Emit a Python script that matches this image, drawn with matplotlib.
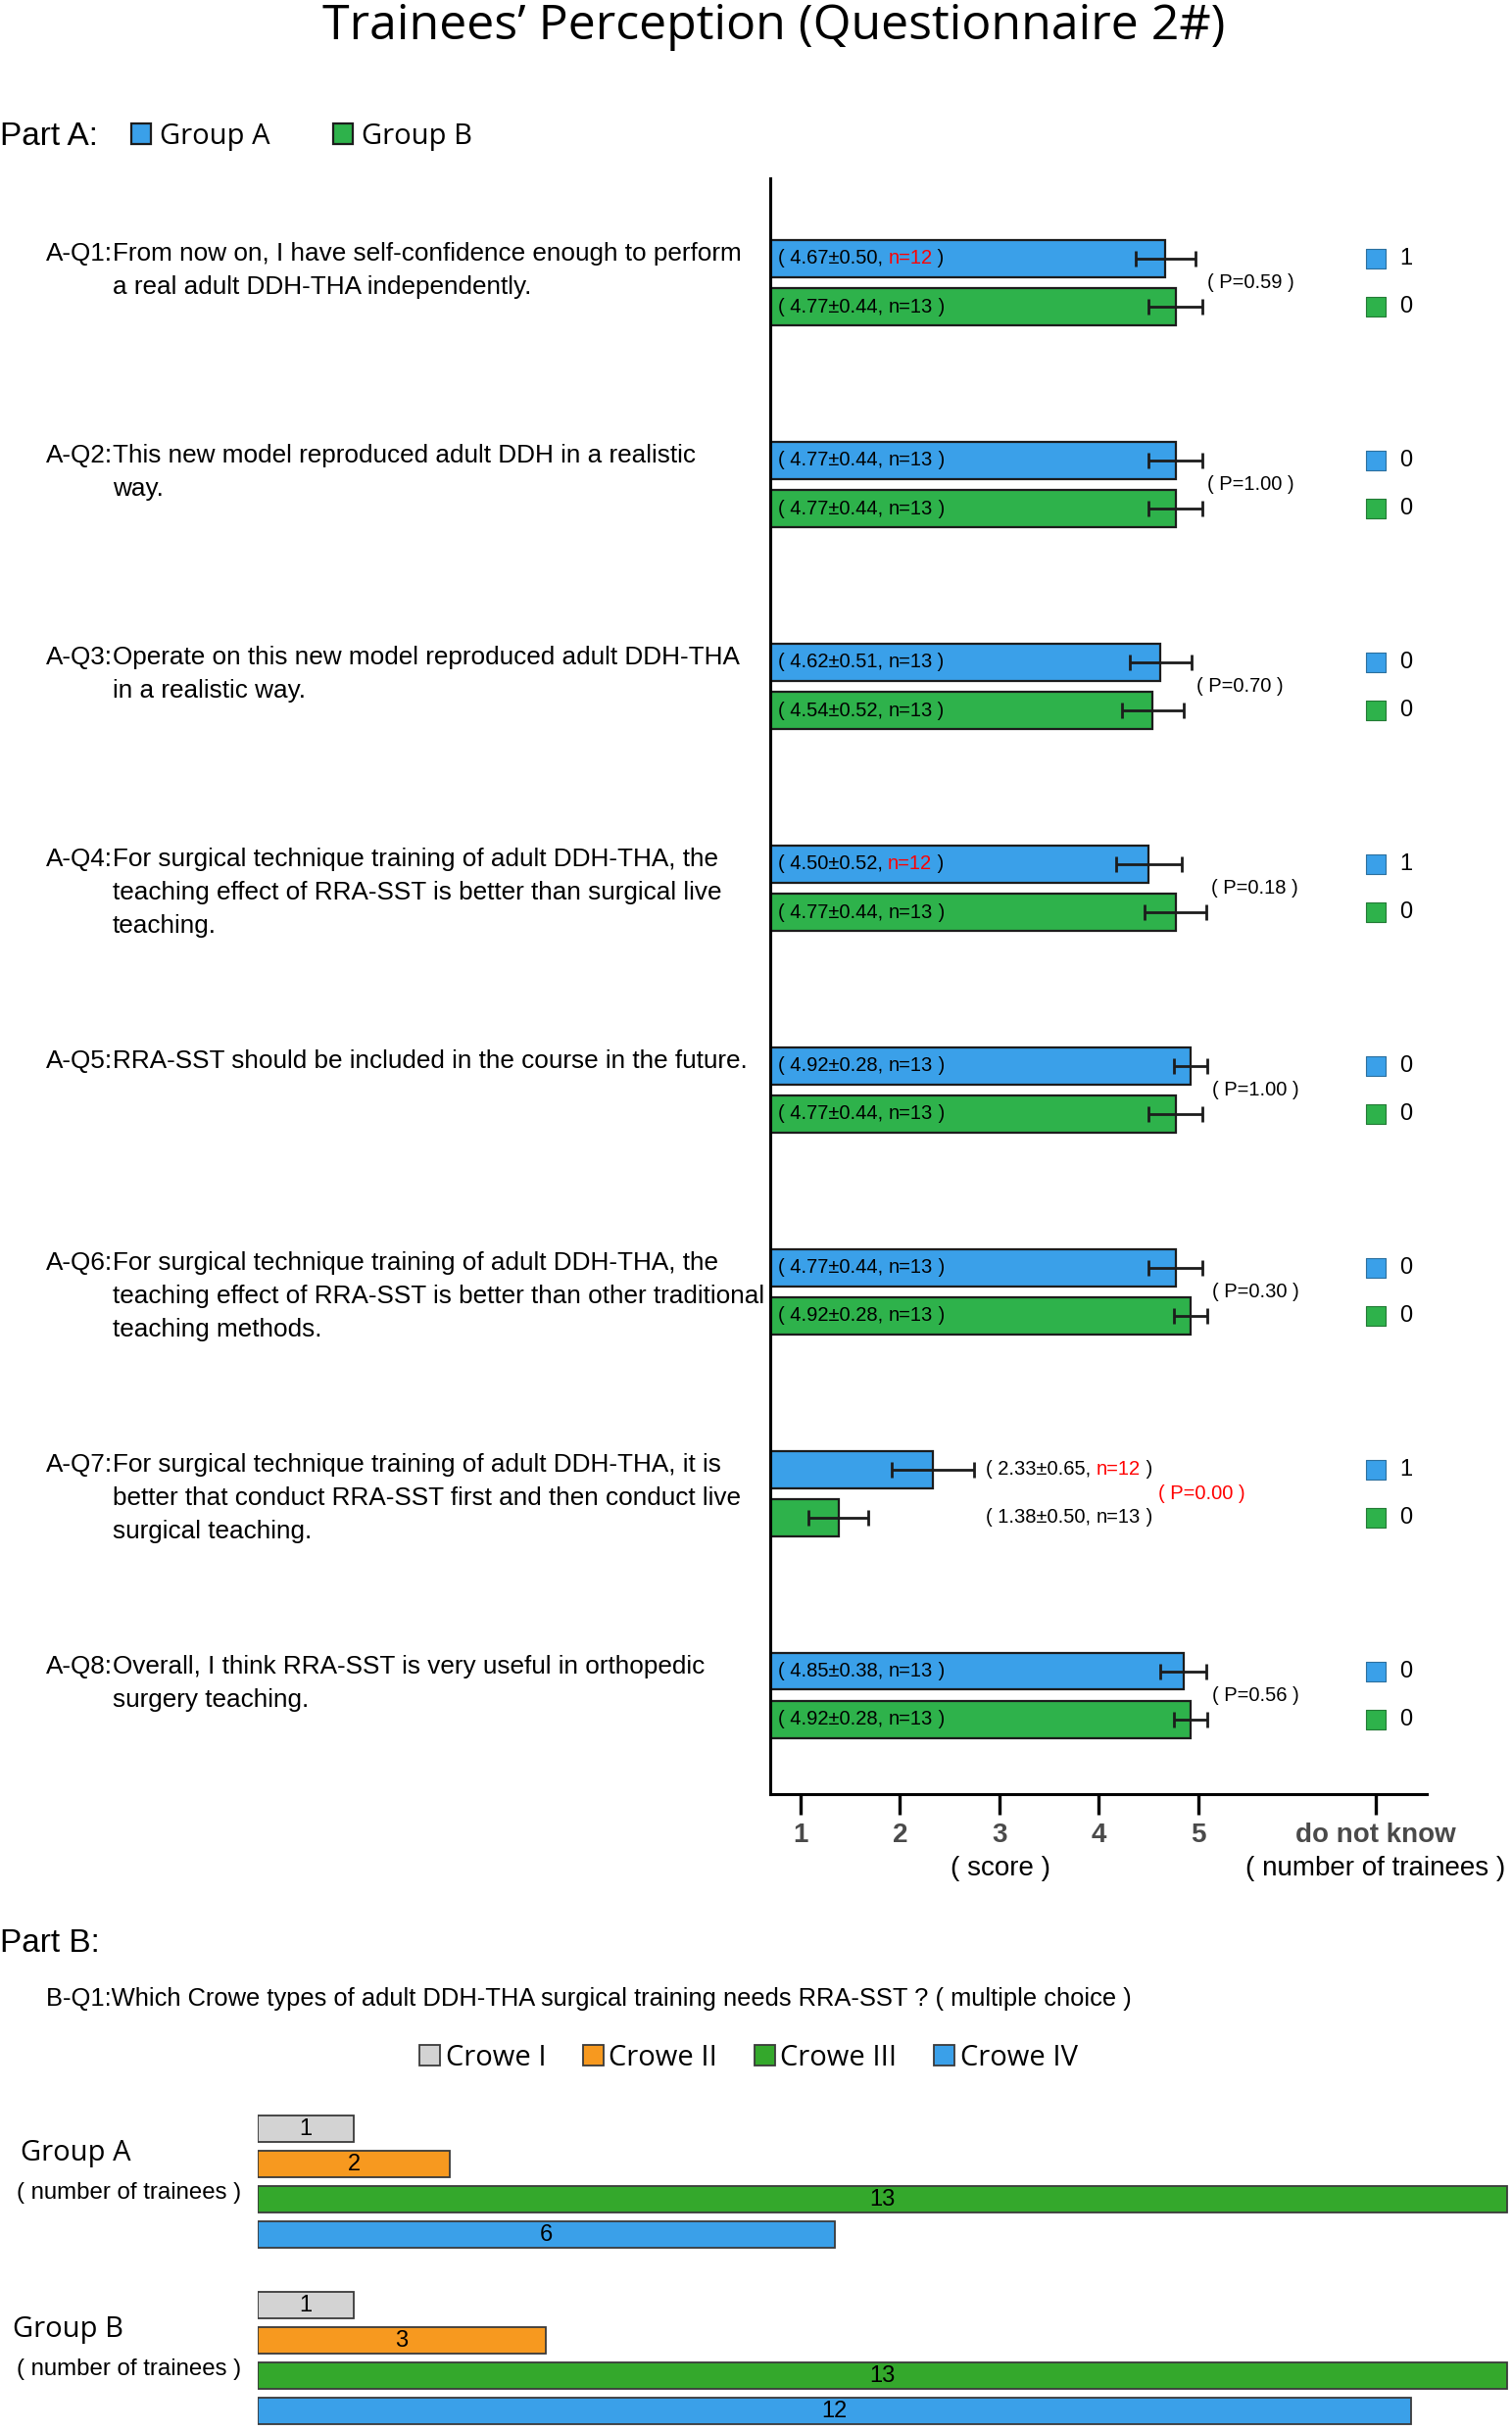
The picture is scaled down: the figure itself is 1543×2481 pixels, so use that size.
import matplotlib
matplotlib.use("Agg")
import matplotlib.pyplot as plt
from matplotlib import font_manager, transforms

# ---------------- data ----------------
questions = [
    ["A-Q1:", "From now on, I have self-confidence enough to perform", "a real adult DDH-THA independently."],
    ["A-Q2:", "This new model reproduced adult DDH in a realistic", "way."],
    ["A-Q3:", "Operate on this new model reproduced adult DDH-THA", "in a realistic way."],
    ["A-Q4:", "For surgical technique training of adult DDH-THA, the",
     "teaching effect of RRA-SST is better than surgical live", "teaching."],
    ["A-Q5:", "RRA-SST should be included in the course in the future."],
    ["A-Q6:", "For surgical technique training of adult DDH-THA, the",
     "teaching effect of RRA-SST is better than other traditional", "teaching methods."],
    ["A-Q7:", "For surgical technique training of adult DDH-THA, it is",
     "better that conduct RRA-SST first and then conduct live", "surgical teaching."],
    ["A-Q8:", "Overall, I think RRA-SST is very useful in orthopedic", "surgery teaching."],
]
mean_a = [4.67, 4.77, 4.62, 4.50, 4.92, 4.77, 2.33, 4.85]
sd_a = [0.50, 0.44, 0.51, 0.52, 0.28, 0.44, 0.65, 0.38]
n_a = [12, 13, 13, 12, 13, 13, 12, 13]
err_a = [0.30, 0.27, 0.31, 0.33, 0.17, 0.27, 0.41, 0.23]
mean_b = [4.77, 4.77, 4.54, 4.77, 4.77, 4.92, 1.38, 4.92]
sd_b = [0.44, 0.44, 0.52, 0.44, 0.44, 0.28, 0.50, 0.28]
n_b = [13, 13, 13, 13, 13, 13, 13, 13]
err_b = [0.27, 0.27, 0.31, 0.31, 0.27, 0.17, 0.30, 0.17]
p_values = ["0.59", "1.00", "0.70", "0.18", "1.00", "0.30", "0.00", "0.56"]
dont_know_a = [1, 0, 0, 1, 0, 0, 1, 0]
dont_know_b = [0, 0, 0, 0, 0, 0, 0, 0]
score_ticks = [1, 2, 3, 4, 5]

crowe_types = ["Crowe I", "Crowe II", "Crowe III", "Crowe IV"]
crowe_group_a = [1, 2, 13, 6]
crowe_group_b = [1, 3, 13, 12]

# ---------------- fonts / colours ----------------
avail = {f.name for f in font_manager.fontManager.ttflist}
NARROW = "Liberation Sans Narrow" if "Liberation Sans Narrow" in avail else "Liberation Sans"
WIDE = "Open Sans" if "Open Sans" in avail else "DejaVu Sans"

BLUE = "#3aa0e9"
GREEN = "#2eb24b"
GREEN_B = "#34a82c"
ORANGE = "#f7991f"
GREY = "#d3d3d3"
EDGE = "#1c1c1c"

W, H = 1543, 2481
fig = plt.figure(figsize=(W / 100, H / 100), dpi=100)


def fx(px):
    return px / W


def fy(py):
    return 1 - py / H


# title and part A header
fig.text(fx(790), fy(27), "Trainees\u2019 Perception (Questionnaire 2#)", ha="center", va="center",
         fontsize=36, family=WIDE)
fig.text(fx(0), fy(139), "Part A:", ha="left", va="center", fontsize=24, family=NARROW)

# ---------------- part A ----------------
axA = fig.add_axes([fx(786), fy(1831), (1456 - 786) / W, (1831 - 182) / H])
axA.set_xlim(0.695, 7.296)
axA.set_ylim(7.488, -0.517)
off = 0.119
bh = 0.18
rows = list(range(len(mean_a)))
ya = [r - off for r in rows]
yb = [r + off for r in rows]

bars_a = axA.barh(ya, mean_a, height=bh, color=BLUE, edgecolor=EDGE, linewidth=1.6, label="Group A")
bars_b = axA.barh(yb, mean_b, height=bh, color=GREEN, edgecolor=EDGE, linewidth=1.6, label="Group B")
axA.errorbar(mean_a, ya, xerr=err_a, fmt="none", ecolor=EDGE, elinewidth=2, capsize=5.8, capthick=2)
axA.errorbar(mean_b, yb, xerr=err_b, fmt="none", ecolor=EDGE, elinewidth=2, capsize=5.8, capthick=2)


def stat_label(x, y, m, s, n):
    t1 = axA.text(x, y, "( %.2f\u00b1%.2f, " % (m, s), ha="left", va="center", fontsize=14.5, family=NARROW)
    t2 = axA.annotate("n=%d" % n, xy=(1, 0), xycoords=t1, ha="left", va="bottom", fontsize=14.5,
                      family=NARROW, color="red" if n < 13 else "black")
    axA.annotate(" )", xy=(1, 0), xycoords=t2, ha="left", va="bottom", fontsize=14.5, family=NARROW)


for i in rows:
    inside = mean_a[i] > 4 and mean_b[i] > 4
    lx = 0.77 if inside else 2.86
    stat_label(lx, ya[i], mean_a[i], sd_a[i], n_a[i])
    stat_label(lx, yb[i], mean_b[i], sd_b[i], n_b[i])
    sig = float(p_values[i]) < 0.05
    px = max(mean_a[i] + err_a[i], mean_b[i] + err_b[i]) + 0.05 if inside else 4.6
    axA.text(px, i, "( P=%s )" % p_values[i], ha="left", va="center", fontsize=14.5, family=NARROW,
             color="red" if sig else "black")

# do not know column
DK = 6.78
axA.scatter([DK] * len(rows), ya, marker="s", s=190, color=BLUE, edgecolor="#2b6f9e", linewidth=0.8,
            clip_on=False, zorder=3)
axA.scatter([DK] * len(rows), yb, marker="s", s=190, color=GREEN, edgecolor="#237a35", linewidth=0.8,
            clip_on=False, zorder=3)
for i in rows:
    axA.text(7.09, ya[i], str(dont_know_a[i]), ha="center", va="center", fontsize=17, family=NARROW)
    axA.text(7.09, yb[i], str(dont_know_b[i]), ha="center", va="center", fontsize=17, family=NARROW)

axA.spines["top"].set_visible(False)
axA.spines["right"].set_visible(False)
axA.spines["left"].set_linewidth(2.2)
axA.spines["bottom"].set_linewidth(2.2)
axA.set_yticks([])
axA.set_xticks(score_ticks + [DK])
axA.set_xticklabels([str(t) for t in score_ticks] + ["do not know"])
axA.tick_params(axis="x", length=15, width=2.4, pad=6, labelsize=20, labelcolor="#4a4a4a")
for lab in axA.get_xticklabels():
    lab.set_fontweight("bold")
    lab.set_family(NARROW)

sub = transforms.blended_transform_factory(axA.transData, fig.transFigure)
axA.text(3.01, fy(1907), "( score )", transform=sub, ha="center", va="center", fontsize=20, family=NARROW)
axA.text(DK, fy(1907), "( number of trainees )", transform=sub, ha="center", va="center",
         fontsize=20, family=NARROW)

# question labels
qt = transforms.blended_transform_factory(fig.transFigure, axA.transData)
line_step = 34 / 206
for i, q in enumerate(questions):
    y0 = ya[i] - 5 / 206
    fig.text(fx(115), y0, q[0], transform=qt, ha="right", va="center", fontsize=18.8, family=NARROW)
    for k, line in enumerate(q[1:]):
        fig.text(fx(115), y0 + k * line_step, line, transform=qt, ha="left", va="center",
                 fontsize=18.8, family=NARROW)

fig.legend(handles=[bars_a, bars_b], labels=["Group A", "Group B"], loc="center left",
           bbox_to_anchor=(fx(134), fy(139)), frameon=False, ncol=2, handlelength=0.7, handleheight=0.7,
           handletextpad=0.3, columnspacing=2.2, borderpad=0, borderaxespad=0,
           prop={"family": WIDE, "size": 21})

# ---------------- part B ----------------
fig.text(fx(0), fy(1983), "Part B:", ha="left", va="center", fontsize=24, family=NARROW)
fig.text(fx(47), fy(2040),
         "B-Q1:Which Crowe types of adult DDH-THA surgical training needs RRA-SST ? ( multiple choice )",
         ha="left", va="center", fontsize=18.4, family=NARROW)

axB = fig.add_axes([fx(263), 0, (W - 263) / W, (H - 2137) / H])
axB.set_xlim(0, 13.05)
axB.set_ylim(8.556, -1)
axB.axis("off")
crowe_colors = [GREY, ORANGE, GREEN_B, BLUE]
slots_a = [0, 1, 2, 3]
slots_b = [5, 6, 7, 8]
hb = axB.barh(slots_a, crowe_group_a, height=0.75, color=crowe_colors, edgecolor="#3a3a3a", linewidth=1.3)
axB.barh(slots_b, crowe_group_b, height=0.75, color=crowe_colors, edgecolor="#3a3a3a", linewidth=1.3)
for s, v in zip(slots_a + slots_b, crowe_group_a + crowe_group_b):
    axB.text(v / 2, s, str(v), ha="center", va="center", fontsize=17, family=NARROW)

fig.text(fx(21), fy(2198), "Group A", ha="left", va="center", fontsize=21, family=WIDE)
fig.text(fx(17), fy(2238), "( number of trainees )", ha="left", va="center", fontsize=17.3, family=NARROW)
fig.text(fx(13), fy(2377), "Group B", ha="left", va="center", fontsize=21, family=WIDE)
fig.text(fx(17), fy(2418), "( number of trainees )", ha="left", va="center", fontsize=17.3, family=NARROW)

fig.legend(handles=list(hb), labels=crowe_types, loc="center", bbox_to_anchor=(fx(764), fy(2100)),
           frameon=False, ncol=4, handlelength=0.7, handleheight=0.7, handletextpad=0.2,
           columnspacing=1.3, borderpad=0, borderaxespad=0, prop={"family": WIDE, "size": 21})

fig.savefig("out.png", dpi=100)
